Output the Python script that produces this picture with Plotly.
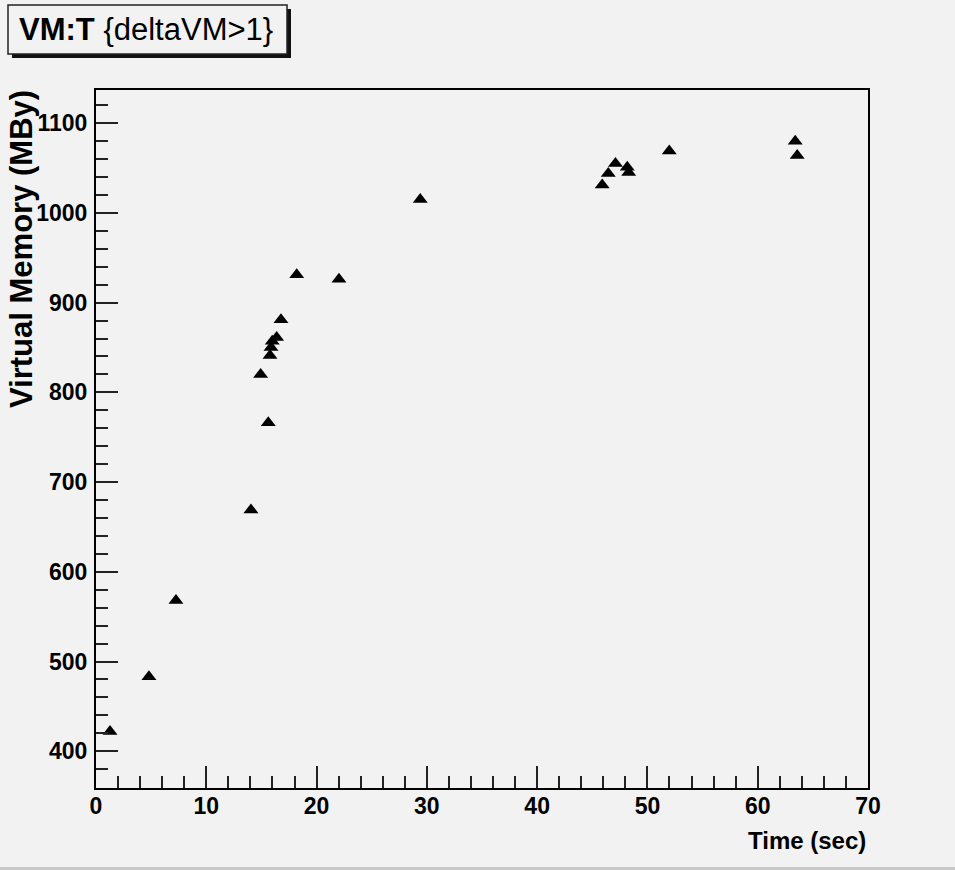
import plotly.graph_objects as go

# Elapsed time (sec) and virtual memory (MBy) for entries with deltaVM > 1
time_sec = [1.27, 4.8, 7.25, 14.05, 14.93, 15.62, 15.78, 15.87, 15.98, 16.38, 16.77,
            18.2, 22.03, 29.4, 45.9, 46.45, 47.1, 48.17, 48.3, 51.98, 63.4, 63.58]
vm_mby = [422, 483, 568, 669, 820, 766, 841, 850, 857, 861, 881,
          931, 926, 1015, 1031, 1044, 1055, 1051, 1045, 1069, 1080, 1064]

x_ticks = [0, 10, 20, 30, 40, 50, 60, 70]
y_ticks = [400, 500, 600, 700, 800, 900, 1000, 1100]

title_text = "<b>VM:T</b> {deltaVM>1}"
x_title = "Time (sec)"
y_title = "Virtual Memory (MBy)"

W, H = 955, 870
L, R, T, B = 96, 87, 90, 82
PW, PH = W - L - R, H - T - B

FONT = "Liberation Sans, Arial, sans-serif"
BG = "#f2f2f2"


def px(xp):
    return (xp - L) / PW


def py(yp):
    return (H - B - yp) / PH


fig = go.Figure()
fig.add_trace(go.Scatter(
    x=time_sec, y=vm_mby, mode="markers",
    marker=dict(symbol="triangle-up", size=13, color="black"),
    showlegend=False,
))

axis_common = dict(
    showline=True, linecolor="black", linewidth=2, mirror=True,
    ticks="inside", ticklen=22, tickwidth=1.5, tickcolor="#222",
    showgrid=False, zeroline=False,
    tickfont=dict(family=FONT, size=23, color="black", weight="bold"),
)

fig.update_xaxes(
    range=[0, 70], tickmode="array", tickvals=x_ticks,
    minor=dict(ticks="inside", ticklen=12, dtick=2, tick0=0, tickwidth=1.5,
               tickcolor="#222", showgrid=False),
    ticklabelstandoff=-4,
    **axis_common,
)
fig.update_yaxes(
    range=[359, 1137], tickmode="array", tickvals=y_ticks,
    minor=dict(ticks="inside", ticklen=12, dtick=20, tick0=0, tickwidth=1.5,
               tickcolor="#222", showgrid=False),
    ticklabelstandoff=2,
    **axis_common,
)

shapes = [
    # title box shadow and box
    dict(type="rect", xref="paper", yref="paper",
         x0=px(12), x1=px(291), y0=py(9), y1=py(58),
         fillcolor="#111", line=dict(width=0), layer="above"),
    dict(type="rect", xref="paper", yref="paper",
         x0=px(8), x1=px(287), y0=py(5), y1=py(54),
         fillcolor=BG, line=dict(color="#222", width=1.5), layer="above"),
    # lower canvas edge
    dict(type="rect", xref="paper", yref="paper",
         x0=px(0), x1=px(W), y0=py(867), y1=py(870),
         fillcolor="#c8c8c8", line=dict(width=0), layer="above"),
]

annotations = [
    dict(text=title_text, xref="paper", yref="paper",
         x=px(146), y=py(30), xanchor="center", yanchor="middle",
         showarrow=False, font=dict(family=FONT, size=31, color="black")),
    dict(text=x_title, xref="paper", yref="paper",
         x=1, y=py(840), xanchor="right", yanchor="middle",
         showarrow=False, font=dict(family=FONT, size=24, color="black", weight="bold")),
    dict(text=y_title, xref="paper", yref="paper",
         x=px(21), y=py(88), xanchor="center", yanchor="top", textangle=-90,
         showarrow=False, font=dict(family=FONT, size=31, color="black", weight="bold")),
]

fig.update_layout(
    width=W, height=H,
    margin=dict(l=L, r=R, t=T, b=B),
    paper_bgcolor=BG, plot_bgcolor=BG,
    shapes=shapes, annotations=annotations,
    font=dict(family=FONT, color="black"),
)

fig.write_html("out.html")
